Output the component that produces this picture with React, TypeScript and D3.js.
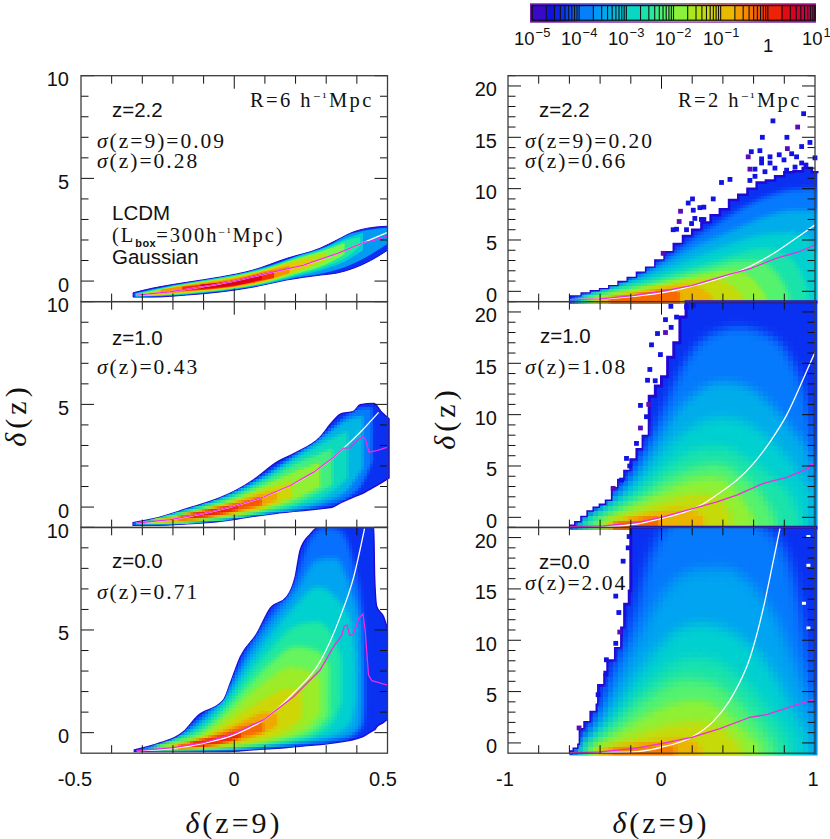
import React from "react";
import * as d3 from "d3";

type Tri = number[];
type Band = [number, Tri[]];

// ---- colour scale of the log density ----
const CMAP_LEVELS = [-5, -4.7, -4.4, -4, -3.5, -3, -2.5, -2, -1.5, -1, -0.5, 0, 0.5, 1];
const CMAP_COLORS = ["#5a0cb8", "#1408d8", "#0a28f0", "#0870ff", "#00a4f0", "#00d0d0", "#20e8a0", "#78f84c", "#b4e410", "#e2cc00", "#f89000", "#f43000", "#dc0018", "#c00060"];
const CBAR_DECADES = [-5, -4, -3, -2, -1, 0];
const CBAR_LABELS: [string, string, number, number][] = [
  ["10", "-5", 514, 45], ["10", "-4", 561, 45], ["10", "-3", 608, 45], ["10", "-2", 655, 45], ["10", "-1", 703, 45], ["1", "", 763, 52], ["10", "1", 802, 45],
];

// ---- R = 6 panels: [x, lower, upper] ----
const L1_OUTER: Tri[] = [[-0.33, -0.78, -0.57], [-0.265, -0.78, -0.34], [-0.155, -0.68, -0.06], [-0.045, -0.53, 0.2], [0.06, -0.3, 0.53], [0.17, 0.05, 1.1], [0.28, 0.29, 1.6], [0.335, 0.39, 2.0], [0.39, 0.63, 2.4], [0.445, 1.0, 2.6], [0.5, 1.5, 2.67]];
const L1_BANDS: Band[] = [
  [-3.6, [[-0.325, -0.76, -0.59], [-0.2, -0.7, -0.2], [-0.1, -0.58, 0.05], [0, -0.41, 0.31], [0.1, -0.17, 0.68], [0.2, 0.16, 1.2], [0.3, 0.42, 1.68], [0.38, 0.8, 2.3], [0.44, 1.25, 2.5], [0.5, 1.8, 2.6]]],
  [-3.0, [[-0.32, -0.75, -0.6], [-0.2, -0.69, -0.22], [-0.1, -0.56, 0.03], [0, -0.39, 0.29], [0.1, -0.14, 0.65], [0.2, 0.22, 1.17], [0.3, 0.6, 1.65], [0.36, 0.95, 2.05], [0.42, 1.5, 2.35]]],
  [-2.5, [[-0.32, -0.74, -0.61], [-0.2, -0.67, -0.24], [-0.1, -0.54, 0.01], [0, -0.37, 0.27], [0.1, -0.11, 0.62], [0.2, 0.28, 1.13], [0.3, 0.72, 1.6], [0.37, 1.2, 2.0], [0.41, 1.7, 2.15]]],
  [-2.0, [[-0.31, -0.73, -0.62], [-0.2, -0.65, -0.26], [-0.1, -0.52, -0.01], [0, -0.35, 0.24], [0.1, -0.08, 0.59], [0.2, 0.35, 1.08], [0.3, 0.82, 1.52], [0.36, 1.3, 1.85]]],
  [-1.5, [[-0.3, -0.72, -0.64], [-0.2, -0.63, -0.28], [-0.1, -0.5, -0.03], [0, -0.33, 0.21], [0.1, -0.05, 0.56], [0.2, 0.42, 1.02], [0.3, 0.95, 1.4]]],
  [-1.0, [[-0.28, -0.7, -0.6], [-0.2, -0.61, -0.3], [-0.1, -0.47, -0.06], [0, -0.31, 0.17], [0.1, -0.02, 0.53], [0.2, 0.5, 0.94], [0.26, 0.78, 1.1]]],
  [-0.5, [[-0.24, -0.63, -0.42], [-0.1, -0.44, -0.1], [0, -0.28, 0.12], [0.1, 0.03, 0.48], [0.18, 0.38, 0.75]]],
  [0, [[-0.17, -0.49, -0.28], [-0.05, -0.35, -0.07], [0, -0.25, 0.05], [0.05, -0.1, 0.24], [0.13, 0.15, 0.5]]],
  [0.5, [[-0.11, -0.39, -0.17], [-0.03, -0.28, -0.06], [0.03, -0.14, 0.1], [0.09, 0.08, 0.34]]],
];
const L1_MEAN = [[-0.318, -0.68], [-0.209, -0.52], [-0.1, -0.275], [0, 0], [0.117, 0.405], [0.226, 0.777], [0.335, 1.34], [0.427, 1.91], [0.438, 1.91], [0.498, 2.18]];
const L1_THEORY = [[-0.318, -0.68], [-0.209, -0.52], [-0.1, -0.275], [0, 0], [0.117, 0.405], [0.226, 0.777], [0.335, 1.34], [0.427, 1.91], [0.498, 2.36]];

const L2_OUTER: Tri[] = [[-0.33, -0.89, -0.76], [-0.263, -0.89, -0.565], [-0.155, -0.82, -0.08], [-0.046, -0.69, 0.455], [0.009, -0.58, 0.84], [0.063, -0.45, 1.33], [0.139, -0.3, 2.19], [0.204, -0.2, 2.67], [0.28, -0.08, 3.4], [0.319, -0.01, 4.13], [0.346, 0.2, 4.53], [0.389, 0.49, 4.66], [0.411, 0.62, 4.98], [0.455, 0.97, 5.05], [0.482, 1.2, 4.6], [0.505, 1.42, 4.3]];
const L2_BANDS: Band[] = [
  [-3.9, [[-0.33, -0.88, -0.75], [-0.2, -0.87, -0.25], [-0.1, -0.76, 0.2], [0, -0.59, 0.78], [0.1, -0.38, 1.6], [0.2, -0.19, 2.6], [0.3, 0.08, 3.65], [0.37, 0.45, 4.5], [0.42, 1.2, 4.85], [0.45, 2.2, 4.85]]],
  [-3.3, [[-0.325, -0.87, -0.75], [-0.2, -0.85, -0.28], [-0.1, -0.74, 0.16], [0, -0.56, 0.72], [0.1, -0.34, 1.52], [0.2, -0.12, 2.5], [0.3, 0.28, 3.5], [0.37, 0.85, 4.25], [0.42, 1.9, 4.45]]],
  [-2.8, [[-0.32, -0.86, -0.76], [-0.2, -0.83, -0.33], [-0.1, -0.72, 0.1], [0, -0.53, 0.64], [0.1, -0.29, 1.4], [0.2, 0.0, 2.35], [0.3, 0.55, 3.2], [0.37, 1.4, 3.7]]],
  [-2.3, [[-0.31, -0.84, -0.76], [-0.2, -0.8, -0.4], [-0.1, -0.68, 0.02], [0, -0.49, 0.54], [0.1, -0.22, 1.27], [0.2, 0.15, 2.1], [0.32, 1.1, 2.85]]],
  [-1.8, [[-0.29, -0.82, -0.72], [-0.2, -0.77, -0.46], [-0.1, -0.63, -0.06], [0, -0.43, 0.42], [0.1, -0.13, 1.08], [0.2, 0.38, 1.75], [0.28, 1.0, 2.2]]],
  [-1.2, [[-0.27, -0.78, -0.67], [-0.2, -0.73, -0.52], [-0.1, -0.58, -0.13], [0, -0.35, 0.3], [0.1, -0.03, 0.86], [0.19, 0.5, 1.25]]],
  [-0.7, [[-0.23, -0.74, -0.61], [-0.1, -0.53, -0.18], [0, -0.27, 0.22], [0.1, 0.1, 0.68], [0.14, 0.35, 0.78]]],
  [-0.2, [[-0.18, -0.64, -0.45], [-0.05, -0.38, -0.03], [0, -0.2, 0.14], [0.09, 0.1, 0.5]]],
  [0.2, [[-0.14, -0.55, -0.36], [-0.05, -0.31, -0.08], [0.01, -0.12, 0.05]]],
];
const L2_MEAN = [[-0.318, -0.775], [-0.209, -0.61], [-0.1, -0.32], [0, 0.05], [0.096, 0.49], [0.183, 1.05], [0.259, 1.7], [0.324, 2.43], [0.357, 2.87], [0.378, 2.88], [0.4, 3.24], [0.42, 3.43], [0.427, 3.35], [0.44, 2.67], [0.465, 2.75], [0.498, 2.91]];
const L2_THEORY = [[-0.318, -0.775], [-0.209, -0.61], [-0.1, -0.32], [0, 0.05], [0.096, 0.49], [0.183, 1.05], [0.259, 1.7], [0.324, 2.43], [0.357, 2.87], [0.411, 3.64], [0.471, 4.61]];

const L3_OUTER: Tri[] = [[-0.326, -0.92, -0.84], [-0.252, -0.92, -0.55], [-0.165, -0.92, 0.05], [-0.122, -0.92, 0.78], [-0.035, -0.92, 1.59], [-0.013, -0.92, 2.4], [0.02, -0.88, 3.7], [0.074, -0.82, 4.83], [0.117, -0.78, 6.05], [0.172, -0.72, 6.62], [0.199, -0.68, 7.6], [0.215, -0.66, 8.89], [0.248, -0.62, 9.67], [0.28, -0.58, 10.05], [0.313, -0.52, 10.05], [0.42, -0.19, 10.05], [0.455, 0.12, 10.05], [0.458, 0.14, 7.6], [0.465, 0.29, 6.13], [0.487, 0.5, 5.65], [0.504, 0.7, 4.83]];
const L3_BANDS: Band[] = [
  [-4.0, [[-0.32, -0.91, -0.85], [-0.25, -0.9, -0.62], [-0.17, -0.88, -0.02], [-0.1, -0.85, 0.85], [-0.02, -0.8, 2.25], [0.05, -0.76, 4.25], [0.12, -0.68, 5.8], [0.2, -0.58, 7.5], [0.25, -0.5, 9.5], [0.3, -0.42, 10], [0.35, -0.3, 9.8], [0.39, -0.1, 8.2], [0.42, 0.4, 5.6], [0.425, 1.2, 3]]],
  [-3.5, [[-0.31, -0.9, -0.86], [-0.25, -0.89, -0.65], [-0.17, -0.87, -0.1], [-0.1, -0.84, 0.72], [-0.02, -0.79, 2], [0.05, -0.74, 3.9], [0.12, -0.64, 5.4], [0.2, -0.52, 6.9], [0.27, -0.42, 8.4], [0.33, -0.3, 8.5], [0.38, -0.1, 7], [0.41, 0.4, 5.2], [0.415, 1.2, 3.5]]],
  [-3.0, [[-0.3, -0.89, -0.85], [-0.25, -0.87, -0.68], [-0.17, -0.85, -0.18], [-0.1, -0.82, 0.55], [-0.02, -0.77, 1.8], [0.05, -0.7, 3.4], [0.12, -0.6, 4.8], [0.2, -0.45, 6.2], [0.27, -0.3, 7.1], [0.33, -0.05, 6.6], [0.38, 0.5, 5.4], [0.395, 1.5, 3.8]]],
  [-2.5, [[-0.28, -0.88, -0.78], [-0.2, -0.85, -0.4], [-0.1, -0.8, 0.32], [-0.02, -0.74, 1.5], [0.05, -0.66, 2.9], [0.12, -0.54, 4.1], [0.2, -0.38, 5.2], [0.27, -0.1, 5.4], [0.325, 0.6, 4.6], [0.35, 1.5, 3.6]]],
  [-2.1, [[-0.26, -0.87, -0.7], [-0.2, -0.84, -0.46], [-0.1, -0.78, 0.12], [-0.02, -0.7, 1.2], [0.05, -0.6, 2.35], [0.12, -0.45, 3.4], [0.2, -0.25, 4.2], [0.27, 0.2, 4], [0.31, 0.9, 3.3]]],
  [-1.7, [[-0.24, -0.85, -0.66], [-0.1, -0.75, -0.05], [-0.02, -0.66, 0.9], [0.05, -0.55, 1.85], [0.12, -0.38, 2.7], [0.18, -0.15, 3.2], [0.25, 0.4, 3], [0.28, 1, 2.55]]],
  [-1.2, [[-0.22, -0.85, -0.68], [-0.1, -0.72, -0.18], [-0.02, -0.62, 0.52], [0.05, -0.47, 1.2], [0.12, -0.22, 1.8], [0.17, 0.1, 2.1], [0.22, 0.7, 2.1]]],
  [-0.7, [[-0.2, -0.82, -0.66], [-0.1, -0.68, -0.27], [-0.02, -0.54, 0.22], [0.05, -0.28, 0.7], [0.1, 0, 1], [0.14, 0.35, 0.9]]],
  [-0.3, [[-0.18, -0.77, -0.57], [-0.1, -0.65, -0.33], [-0.03, -0.47, 0.02], [0.03, -0.2, 0.32], [0.095, 0.05, 0.5]]],
  [0.1, [[-0.14, -0.66, -0.45], [-0.05, -0.52, -0.2], [0.02, -0.24, 0.06]]],
];
const L3_MEAN = [[-0.318, -0.87], [-0.198, -0.73], [-0.1, -0.49], [0, -0.03], [0.095, 0.62], [0.193, 1.75], [0.28, 3.05], [0.324, 4.19], [0.351, 4.75], [0.359, 5.19], [0.368, 5.24], [0.376, 4.75], [0.387, 4.75], [0.406, 5.56], [0.42, 5.78], [0.427, 5], [0.438, 2.81], [0.449, 2.53], [0.5, 2.32]];
const L3_THEORY = [[-0.318, -0.89], [-0.198, -0.76], [-0.1, -0.52], [0, -0.11], [0.095, 0.62], [0.193, 1.92], [0.28, 3.46], [0.346, 5.65], [0.39, 7.6], [0.425, 9.94]];

// ---- R = 2 panels: [x, upper]; the lower edge is the floor ----
const R_OUTER_FLOOR = -1.2;
const R_INNER_FLOOR = -3;
const R1_OUTER = [[-0.6, -0.5], [-0.52, -0.2], [-0.46, 0], [-0.4, 0.2], [-0.34, 0.5], [-0.28, 0.9], [-0.22, 1.3], [-0.16, 1.8], [-0.1, 2.3], [-0.04, 3], [0.02, 3.8], [0.08, 4.6], [0.14, 5.4], [0.2, 6], [0.26, 6.7], [0.32, 7.4], [0.38, 8], [0.44, 8.9], [0.5, 9.4], [0.56, 10], [0.62, 10.6], [0.68, 10.8], [0.74, 11.2], [0.8, 11.6], [0.86, 11.7], [0.92, 12], [0.98, 11.6], [1.015, 11.5]];
const R1_BANDS: Band[] = [
  [-3.9, [[-0.58, -0.55], [-0.45, -0.1], [-0.3, 0.6], [-0.15, 1.6], [-0.03, 2.7], [0.08, 3.8], [0.2, 5.1], [0.35, 6.5], [0.5, 7.9], [0.7, 9.3], [0.85, 9.9], [1.02, 10]]],
  [-3.4, [[-0.56, -0.6], [-0.4, 0.05], [-0.25, 0.75], [-0.1, 1.8], [0.03, 2.8], [0.15, 3.8], [0.3, 4.9], [0.5, 6.2], [0.7, 7.4], [0.85, 7.9], [1.02, 7.9]]],
  [-3.0, [[-0.54, -0.62], [-0.35, 0.25], [-0.2, 0.9], [-0.05, 1.7], [0.1, 2.6], [0.25, 3.5], [0.45, 4.6], [0.65, 5.5], [0.8, 5.7], [0.95, 5.3], [1.02, 3.5]]],
  [-2.6, [[-0.52, -0.65], [-0.3, 0.25], [-0.15, 0.8], [0, 1.45], [0.15, 2.15], [0.3, 2.8], [0.5, 3.7], [0.65, 4.2], [0.78, 3.8], [0.9, 2.1], [0.96, -0.2]]],
  [-2.2, [[-0.5, -0.65], [-0.3, 0.05], [-0.15, 0.55], [0, 1.1], [0.15, 1.7], [0.3, 2.25], [0.5, 2.95], [0.62, 3], [0.75, 1.8], [0.83, -0.3]]],
  [-1.8, [[-0.47, -0.68], [-0.3, -0.1], [-0.15, 0.32], [0, 0.8], [0.15, 1.3], [0.3, 1.75], [0.45, 2.05], [0.57, 1.5], [0.68, -0.4]]],
  [-1.3, [[-0.44, -0.72], [-0.25, -0.15], [-0.1, 0.32], [0.05, 0.75], [0.2, 1.15], [0.32, 1.25], [0.44, 0.75], [0.53, -0.5]]],
  [-0.8, [[-0.4, -0.8], [-0.25, -0.4], [-0.1, 0.02], [0.03, 0.42], [0.13, 0.65], [0.24, 0.42], [0.33, -0.5]]],
  [-0.3, [[-0.34, -0.65], [-0.18, -0.3], [-0.07, -0.05], [0.03, 0.15], [0.12, -0.1]]],
];
const R1_MEAN = [[-0.6, -0.8], [-0.4, -0.74], [-0.185, -0.42], [0, 0], [0.196, 0.55], [0.38, 1.39], [0.576, 2.2], [0.75, 3.24], [0.902, 3.88], [1, 4.53]];
const R1_THEORY = [[-0.6, -0.8], [-0.4, -0.74], [-0.185, -0.49], [0, -0.16], [0.196, 0.49], [0.38, 1.25], [0.576, 2.43], [0.75, 3.88], [0.902, 5.44], [1, 6.47]];
const R1_CELLS = [[0.926, 17.3, -4.6], [0.726, 16.6, -4.6], [0.887, 16, -5], [0.657, 15, -4.6], [0.817, 15, -4.6], [0.967, 14.5, -4.6], [0.913, 14.1, -4.6], [0.82, 13.9, -5], [0.585, 13.6, -4.6], [0.641, 13.7, -4.6], [0.565, 13.1, -5], [0.767, 13.3, -4.6], [0.848, 13.4, -4.6], [0.652, 12.9, -4.6], [0.707, 13.1, -4.6], [0.798, 12.8, -4.6], [0.88, 13.1, -4.6], [1, 13, -4.6], [0.707, 12.5, -4.6], [0.652, 12.5, -4.6], [0.913, 12.5, -4.6], [0.941, 12.3, -4.6], [0.609, 11.9, -4.6], [0.576, 11.9, -5], [0.739, 12, -4.6], [0.674, 11.65, -4.6], [0.815, 11.8, -4.6], [0.87, 12.1, -4.6], [0.609, 11.2, -4.6], [0.446, 10.9, -4.6], [0.391, 10.6, -4.6], [0.576, 10.8, -4.6], [0.202, 9, -4.6], [0.174, 8.6, -4.6], [0.337, 9, -4.6], [0.25, 8.15, -4.6], [0.276, 8.2, -4.6], [0.207, 7.9, -4.6], [0.124, 7.8, -5], [0.098, 6.05, -4.6], [0.115, 6.8, -5], [0.217, 7.1, -4.6], [0.276, 7, -4.6], [0.011, 3.7, -5], [0.076, 6, -4.6], [0.163, 6, -4.6], [0.196, 6.6, -4.6], [0.26, 7, -4.6]];

const R2_OUTER = [[-0.6, -0.85], [-0.56, -0.5], [-0.52, 0], [-0.48, 0.55], [-0.44, 0.9], [-0.4, 1.2], [-0.36, 1.6], [-0.32, 2.8], [-0.28, 3.6], [-0.24, 4.5], [-0.2, 5.6], [-0.16, 6.6], [-0.12, 7.9], [-0.08, 11.8], [-0.04, 12.8], [0, 13.7], [0.04, 15.6], [0.08, 17], [0.12, 19.5], [0.16, 21], [1.015, 21]];
const R2_BANDS: Band[] = [
  [-3.9, [[-0.57, -0.55], [-0.5, 0.2], [-0.4, 1.0], [-0.3, 2.6], [-0.2, 4.4], [-0.1, 7], [0, 10.2], [0.1, 13.6], [0.2, 16.2], [0.35, 18], [0.5, 18.5], [0.7, 17.7], [0.85, 15.2], [0.95, 11], [1.02, 4]]],
  [-3.4, [[-0.55, -0.6], [-0.4, 0.8], [-0.3, 2], [-0.2, 3.5], [-0.1, 5.6], [0, 8], [0.1, 10.3], [0.25, 12.4], [0.4, 13.2], [0.55, 12.8], [0.7, 11.2], [0.85, 8.6], [0.97, 5.8], [1.02, 2.5]]],
  [-3.0, [[-0.53, -0.6], [-0.4, 0.55], [-0.3, 1.55], [-0.2, 2.8], [-0.1, 4.4], [0, 6.2], [0.1, 7.7], [0.25, 9.2], [0.4, 9.7], [0.55, 9.2], [0.7, 7.7], [0.85, 5.3], [0.97, 2.4]]],
  [-2.6, [[-0.51, -0.62], [-0.4, 0.3], [-0.3, 1.15], [-0.2, 2.1], [-0.1, 3.3], [0, 4.6], [0.1, 5.7], [0.25, 6.7], [0.4, 6.8], [0.55, 5.8], [0.7, 4.2], [0.87, 1.2], [0.91, -0.4]]],
  [-2.2, [[-0.48, -0.6], [-0.3, 0.8], [-0.2, 1.55], [-0.1, 2.35], [0, 3.4], [0.1, 4.2], [0.25, 5], [0.37, 5.2], [0.52, 4.1], [0.67, 1.9], [0.75, -0.4]]],
  [-1.8, [[-0.42, -0.55], [-0.3, 0.35], [-0.2, 1], [-0.1, 1.7], [0, 2.4], [0.1, 3.05], [0.25, 3.75], [0.36, 3.8], [0.5, 2.3], [0.6, 0.1]]],
  [-1.3, [[-0.37, -0.5], [-0.2, 0.45], [-0.1, 0.9], [0, 1.4], [0.1, 1.85], [0.25, 2.2], [0.36, 1.9], [0.45, 0.4]]],
  [-0.8, [[-0.33, -0.55], [-0.2, 0], [-0.1, 0.35], [0, 0.65], [0.1, 0.8], [0.2, 0.6], [0.28, 0]]],
  [-0.3, [[-0.31, -0.6], [-0.2, -0.3], [-0.1, -0.1], [-0.01, 0]]],
];
const R2_MEAN = [[-0.6, -0.9], [-0.38, -0.84], [-0.163, -0.52], [0, 0], [0.185, 0.78], [0.36, 1.5], [0.49, 2.17], [0.663, 3.3], [0.815, 3.9], [0.957, 4.77], [0.967, 5.2], [0.99, 5.1]];
const R2_THEORY = [[-0.6, -0.9], [-0.38, -0.9], [-0.163, -0.65], [0, -0.1], [0.185, 0.71], [0.27, 1.3], [0.38, 2.4], [0.49, 3.6], [0.6, 5.25], [0.707, 7.36], [0.815, 9.95], [0.924, 13.5], [1, 16.1]];
const R2_CELLS = [[-0.065, 16.8, -4.6], [-0.026, 17.9, -4.6], [0.026, 18, -5], [0.026, 19.25, -4.6], [0.063, 18.5, -4.6], [0.098, 19.5, -4.6], [-0.076, 14.4, -4.6], [-0.007, 15.85, -4.6], [-0.137, 10.9, -4.6], [-0.083, 11, -5], [-0.091, 13.35, -4.6], [-0.041, 13.3, -4.6], [-0.098, 9.8, -4.6], [-0.137, 8.7, -5], [-0.163, 7.2, -4.6], [-0.228, 5.74, -4.6], [-0.207, 5, -4.6], [-0.26, 3.63, -4.6], [-0.315, 2.82, -5], [0.061, 20.55, -4.6], [0.163, 20.5, -4.6], [0.207, 20.65, -4.6]];

const R3_OUTER = [[-0.6, -0.85], [-0.57, -0.6], [-0.54, -0.2], [-0.53, 1.3], [-0.5, 2], [-0.46, 3], [-0.42, 3.7], [-0.41, 5.6], [-0.37, 6.6], [-0.35, 8], [-0.3, 9.2], [-0.26, 11.2], [-0.24, 13.5], [-0.21, 14.8], [-0.2, 21], [1.015, 21]];
const R3_BANDS: Band[] = [
  [-3.9, [[-0.56, -0.4], [-0.5, 0.9], [-0.43, 2.5], [-0.37, 4.8], [-0.3, 7.6], [-0.22, 10.6], [-0.16, 13.4], [-0.1, 17], [0, 20.5], [0.1, 22], [0.5, 22], [0.75, 20], [0.88, 15], [0.95, 9], [1.02, 3]]],
  [-3.5, [[-0.55, -0.4], [-0.48, 0.7], [-0.4, 2.4], [-0.33, 4.6], [-0.25, 7.2], [-0.15, 10], [-0.05, 13], [0.05, 15.2], [0.2, 16.8], [0.4, 17], [0.6, 15.2], [0.75, 12], [0.88, 7.2], [1.02, 1.5]]],
  [-3.0, [[-0.53, -0.45], [-0.45, 0.7], [-0.37, 2.2], [-0.28, 4.2], [-0.2, 5.9], [-0.1, 7.9], [0, 9.6], [0.1, 11], [0.25, 11.6], [0.4, 11.2], [0.55, 9.9], [0.7, 7.5], [0.84, 3.8], [0.96, 0.5]]],
  [-2.6, [[-0.51, -0.45], [-0.42, 0.55], [-0.33, 1.9], [-0.25, 3.2], [-0.15, 5], [-0.05, 6.4], [0.05, 7.5], [0.2, 8.3], [0.35, 8], [0.5, 6.6], [0.65, 4.2], [0.84, 0.3]]],
  [-2.2, [[-0.49, -0.5], [-0.38, 0.75], [-0.3, 1.65], [-0.2, 3], [-0.1, 4.2], [0, 5.3], [0.15, 6.2], [0.3, 6], [0.45, 4.7], [0.62, 2.1], [0.74, -0.3]]],
  [-1.8, [[-0.46, -0.55], [-0.35, 0.4], [-0.25, 1.25], [-0.15, 2.15], [-0.05, 3], [0.1, 3.9], [0.22, 4.1], [0.35, 3.6], [0.52, 1.5], [0.64, -0.3]]],
  [-1.3, [[-0.43, -0.6], [-0.3, 0], [-0.15, 0.75], [-0.05, 1.3], [0.1, 1.9], [0.25, 2.05], [0.4, 1.3], [0.52, -0.4]]],
  [-0.8, [[-0.41, -0.65], [-0.2, -0.15], [-0.05, 0.2], [0.05, 0.4], [0.15, 0.45], [0.26, -0.5]]],
  [-0.4, [[-0.33, -0.6], [-0.1, -0.25], [0.09, -0.15]]],
];
const R3_MEAN = [[-0.6, -0.97], [-0.4, -0.88], [-0.185, -0.55], [0, -0.06], [0.196, 0.55], [0.38, 1.4], [0.576, 2.5], [0.685, 2.76], [0.815, 3.4], [0.902, 3.82], [0.99, 4.2]];
const R3_THEORY = [[-0.6, -0.97], [-0.4, -0.94], [-0.185, -0.88], [0, -0.42], [0.196, 0.55], [0.337, 2.1], [0.467, 4.7], [0.576, 8.27], [0.663, 13.1], [0.728, 17.7], [0.772, 20.9]];
const R3_CELLS = [[-0.25, 17.7, -4.6], [-0.298, 14.3, -4.6], [-0.278, 12.7, -4.6], [-0.298, 9.7, -4.6], [-0.359, 8.1, -4.6], [-0.537, 1.46, -5], [-0.211, 20.1, -4.6], [-0.217, 19, -4.6], [-0.272, 10.8, -5], [-0.413, 4.7, -4.6], [-0.363, 6.8, -4.6]];
const R3_HOLES = [[0.957, 20.1], [0.957, 17.3], [0.928, 13.6], [0.957, 11.2]];

const LEFT_YTICKS = [-1, 10, 5];
const RIGHT_YTICKS = [-1, 21, 5];

const SANS = "'Liberation Sans', Arial, sans-serif";
const SERIF = "'Liberation Serif', 'Times New Roman', serif";
const cmap = d3.scaleLinear<string>().domain(CMAP_LEVELS).range(CMAP_COLORS).interpolate(d3.interpolateRgb).clamp(true);

const PANEL_TOPS = [75.7, 301.7, 527.3];
const PANEL_H = 225.9;

interface PanelSpec {
  id: string; side: "L" | "R"; row: number;
  outer: Tri[]; bands: Band[]; mean: number[][]; theory: number[][];
  cells?: number[][]; holes?: number[][];
  blurs: [number, number, number]; cell: number; rim: number;
}
const PANELS: PanelSpec[] = [
  { id: "l1", side: "L", row: 0, outer: L1_OUTER, bands: L1_BANDS, mean: L1_MEAN, theory: L1_THEORY, blurs: [0.5, 0.5, 0.5], cell: 1, rim: 1 },
  { id: "l2", side: "L", row: 1, outer: L2_OUTER, bands: L2_BANDS, mean: L2_MEAN, theory: L2_THEORY, blurs: [1.4, 1.1, 0.8], cell: 3, rim: 1.4 },
  { id: "l3", side: "L", row: 2, outer: L3_OUTER, bands: L3_BANDS, mean: L3_MEAN, theory: L3_THEORY, blurs: [2.6, 2, 1.2], cell: 3, rim: 1.4 },
  { id: "r1", side: "R", row: 0, outer: R1_OUTER.map((p) => [p[0], R_OUTER_FLOOR, p[1]]), bands: R1_BANDS, mean: R1_MEAN, theory: R1_THEORY, cells: R1_CELLS, blurs: [2.6, 1.8, 1.2], cell: 3, rim: 2.5 },
  { id: "r2", side: "R", row: 1, outer: R2_OUTER.map((p) => [p[0], R_OUTER_FLOOR, p[1]]), bands: R2_BANDS, mean: R2_MEAN, theory: R2_THEORY, cells: R2_CELLS, blurs: [5, 3, 1.6], cell: 5, rim: 3 },
  { id: "r3", side: "R", row: 2, outer: R3_OUTER.map((p) => [p[0], R_OUTER_FLOOR, p[1]]), bands: R3_BANDS, mean: R3_MEAN, theory: R3_THEORY, cells: R3_CELLS, holes: R3_HOLES, blurs: [6, 3.5, 2], cell: 5, rim: 3 },
];

function scalesOf(side: "L" | "R", row: number) {
  const x = side === "L" ? d3.scaleLinear().domain([-0.5, 0.5]).range([81, 387.5]) : d3.scaleLinear().domain([-1, 1]).range([508, 815]);
  const yd = side === "L" ? LEFT_YTICKS : RIGHT_YTICKS;
  const y = d3.scaleLinear().domain([yd[0], yd[1]]).range([PANEL_TOPS[row] + PANEL_H, PANEL_TOPS[row]]);
  return { x, y };
}

function Panel({ p }: { p: PanelSpec }) {
  const { x, y } = scalesOf(p.side, p.row);
  const areaFor = (curve: d3.CurveFactory) => d3.area<Tri>().x((d) => x(d[0])).y0((d) => y(d[1])).y1((d) => y(d[2])).curve(curve);
  const outerCurve = p.side === "R" ? d3.curveStepAfter : d3.curveMonotoneX;
  const outerPath = areaFor(outerCurve)(p.outer) || "";
  const rimPath = p.side === "R"
    ? d3.line<Tri>().x((d) => x(d[0])).y((d) => y(d[2])).curve(d3.curveStepAfter)(p.outer) || ""
    : outerPath;
  const bandArea = areaFor(d3.curveMonotoneX);
  const line = d3.line<number[]>().x((d) => x(d[0])).y((d) => y(d[1])).curve(d3.curveMonotoneX);
  const lineLin = d3.line<number[]>().x((d) => x(d[0])).y((d) => y(d[1])).curve(d3.curveLinear);
  const [x0, x1] = x.range();
  const yt = y.range()[1];
  const cw = p.side === "R" ? 4.8 : 3;
  const fr = { filterUnits: "userSpaceOnUse", x: x0 - 20, y: yt - 20, width: x1 - x0 + 40, height: PANEL_H + 50 } as const;
  const tier = (lev: number) => (lev < -2 ? 0 : lev < -1 ? 1 : 2);
  const r = (p.cell - 1) / 2;
  const px = Math.floor(x0) - 20;
  const py = Math.floor(yt) - 20;
  return (
    <g>
      <defs>
        <clipPath id={`outer-${p.id}`}><path d={outerPath} /></clipPath>
        <clipPath id={`frame-${p.id}`}><rect x={x0} y={yt} width={x1 - x0} height={PANEL_H} /></clipPath>
        {p.blurs.map((b, i) => (
          <filter key={i} id={`blur-${p.id}-${i}`} {...fr} colorInterpolationFilters="sRGB">
            <feGaussianBlur stdDeviation={b} />
          </filter>
        ))}
        <filter id={`pix-${p.id}`} {...fr} primitiveUnits="userSpaceOnUse" colorInterpolationFilters="sRGB">
          <feFlood x={px + r} y={py + r} width={1} height={1} floodColor="#000" />
          <feComposite x={px} y={py} width={p.cell} height={p.cell} />
          <feTile result="grid" />
          <feComposite in="SourceGraphic" in2="grid" operator="in" />
          <feMorphology operator="dilate" radius={r} />
        </filter>
      </defs>
      <g clipPath={p.side === "L" && p.row === 2 ? `url(#frame-${p.id})` : undefined}>
        <path d={outerPath} fill={cmap(-4.35)} />
        <path d={rimPath} fill="none" stroke={cmap(-4.75)} strokeWidth={p.rim} />
        <g clipPath={`url(#outer-${p.id})`}>
          <g filter={p.cell > 1 ? `url(#pix-${p.id})` : undefined}>
            {p.bands.map(([lev, pts], i) => {
              const norm = pts.map((q) => (q.length === 2 ? [q[0], R_INNER_FLOOR, q[1]] : q));
              return <path key={i} d={bandArea(norm) || ""} fill={cmap(lev)} filter={`url(#blur-${p.id}-${tier(lev)})`} />;
            })}
          </g>
        </g>
      </g>
      {(p.cells || []).map((c, i) => (
        <rect key={i} x={x(c[0]) - cw / 2} y={y(c[1]) - cw / 2} width={cw} height={cw} fill={cmap(c[2])} />
      ))}
      {(p.holes || []).map((c, i) => (
        <rect key={i} x={x(c[0]) - 2} y={y(c[1]) - 1.5} width={4} height={3} fill="#fff" />
      ))}
      <g clipPath={`url(#frame-${p.id})`} fill="none">
        <path d={line(p.theory) || ""} stroke="#ffffff" strokeWidth={1.3} />
        <path d={lineLin(p.mean) || ""} stroke="#f22ae0" strokeWidth={1.3} />
      </g>
    </g>
  );
}

function Frame({ side, row }: { side: "L" | "R"; row: number }) {
  const { x, y } = scalesOf(side, row);
  const [x0, x1] = x.range();
  const [yb, yt] = y.range();
  const xt = side === "L" ? d3.range(-4, 5).map((i) => i / 10) : d3.range(-4, 5).map((i) => i / 5);
  const yd = y.domain();
  const yMaj = d3.range(0, yd[1] + 0.01, 5);
  const yMin = d3.range(0, yd[1] + 0.01, 1).filter((v) => v % 5 !== 0);
  const seg: [number, number, number, number][] = [];
  xt.forEach((v) => {
    const l = v === 0 ? 13 : 8;
    seg.push([x(v), yb, x(v), yb - l], [x(v), yt, x(v), yt + l]);
  });
  yMaj.forEach((v) => seg.push([x0, y(v), x0 + 13, y(v)], [x1, y(v), x1 - 13, y(v)]));
  yMin.forEach((v) => seg.push([x0, y(v), x0 + 7.5, y(v)], [x1, y(v), x1 - 7.5, y(v)]));
  return (
    <g>
      {seg.map((s, i) => <line key={i} x1={s[0]} y1={s[1]} x2={s[2]} y2={s[3]} stroke="#111" strokeWidth={1} />)}
      <rect x={x0} y={yt} width={x1 - x0} height={yb - yt} fill="none" stroke="#3c3c3c" strokeWidth={1.3} />
    </g>
  );
}

function Sup({ a, b, x, y, size }: { a: string; b: string; x: number; y: number; size: number }) {
  return (
    <text x={x} y={y} fontFamily={SANS} fontSize={size} fill="#111">
      {a}
      {b && <tspan fontSize={size * 0.7} dy={-size * 0.42} dx={1}>{b.replace("-", "\u2212")}</tspan>}
    </text>
  );
}

function Serif({ x, y, children, size = 21.5, ls = 2 }: { x: number; y: number; children: React.ReactNode; size?: number; ls?: number }) {
  return <text x={x} y={y} fontFamily={SERIF} fontSize={size} letterSpacing={ls} fill="#111">{children}</text>;
}
function Sans({ x, y, children }: { x: number; y: number; children: React.ReactNode }) {
  return <text x={x} y={y} fontFamily={SANS} fontSize={20.5} fill="#111">{children}</text>;
}
function Sigma({ x, y, text }: { x: number; y: number; text: string }) {
  return <Serif x={x} y={y}><tspan fontStyle="italic">σ</tspan>{text}</Serif>;
}
function Radius({ x, y, r }: { x: number; y: number; r: string }) {
  return (
    <Serif x={x} y={y} size={20.5} ls={2.4}>
      {`R=${r} h`}<tspan fontSize={13} dy={-6}>−¹</tspan><tspan dy={6}>Mpc</tspan>
    </Serif>
  );
}
function AxisName({ x, y, rot, text, ls }: { x: number; y: number; rot?: boolean; text: string; ls: number }) {
  return (
    <text x={x} y={y} transform={rot ? `rotate(-90 ${x} ${y})` : undefined} textAnchor="middle" fontFamily={SERIF} fontSize={30} letterSpacing={ls} fill="#111">
      <tspan fontStyle="italic">δ</tspan>{text}
    </text>
  );
}

function ColorBar() {
  const scale = d3.scaleLinear().domain([-5, 1]).range([532, 815]);
  const multipliers = [1, 2, 3, 4, 5, 6, 7, 8, 9];
  const edges: number[] = [];
  CBAR_DECADES.forEach((d) => multipliers.forEach((m) => edges.push(d + Math.log10(m))));
  edges.push(1);
  return (
    <g>
      <rect x={530} y={3.3} width={286} height={19.4} fill="#7a1ca8" />
      {edges.slice(0, -1).map((e, i) => (
        <rect key={i} x={scale(e)} y={4.6} width={scale(edges[i + 1]) - scale(e) + 0.4} height={17} fill={cmap((e + edges[i + 1]) / 2)} />
      ))}
      <rect x={532} y={5.6} width={283} height={14.6} fill="none" stroke="#111" strokeWidth={1.2} />
      {edges.map((e, i) => <line key={i} x1={scale(e)} x2={scale(e)} y1={5.6} y2={20.2} stroke="#111" strokeWidth={1.1} />)}
      {CBAR_LABELS.map((l, i) => <Sup key={i} a={l[0]} b={l[1]} x={l[2]} y={l[3]} size={18.5} />)}
    </g>
  );
}

export default function App() {
  const tickFont = { fontFamily: SANS, fontSize: 20, fill: "#111" } as const;
  const ylabs: [string, number, number][] = [];
  [0, 1, 2].forEach((row) => {
    const l = scalesOf("L", row).y;
    [10, 5, 0].forEach((v) => ylabs.push([String(v), 69, l(v) + 10.5]));
    const r = scalesOf("R", row).y;
    [20, 15, 10, 5, 0].forEach((v) => ylabs.push([String(v), 497, r(v) + 10.5]));
  });
  return (
    <svg width={830} height={839} viewBox="0 0 830 839" style={{ position: "absolute", left: 0, top: 0, background: "#fff" }}>
      <ColorBar />
      {PANELS.map((p) => <Panel key={p.id} p={p} />)}
      {[0, 1, 2].map((r) => <Frame key={"L" + r} side="L" row={r} />)}
      {[0, 1, 2].map((r) => <Frame key={"R" + r} side="R" row={r} />)}
      {ylabs.map((t, i) => <text key={i} x={t[1]} y={t[2]} textAnchor="end" {...tickFont}>{t[0]}</text>)}
      <text x={75} y={786} textAnchor="middle" {...tickFont}>-0.5</text>
      <text x={234} y={786} textAnchor="middle" {...tickFont}>0</text>
      <text x={383} y={786} textAnchor="middle" {...tickFont}>0.5</text>
      <text x={505} y={786} textAnchor="middle" {...tickFont}>-1</text>
      <text x={661} y={786} textAnchor="middle" {...tickFont}>0</text>
      <text x={813} y={786} textAnchor="middle" {...tickFont}>1</text>

      <Sans x={112} y={117}>z=2.2</Sans>
      <Radius x={250} y={107} r="6" />
      <Sigma x={97} y={148} text="(z=9)=0.09" />
      <Sigma x={97} y={168} text="(z)=0.28" />
      <Sans x={112} y={220}>LCDM</Sans>
      <Serif x={112} y={242} size={20.5} ls={1.9}>
        (L<tspan fontFamily={SANS} fontWeight="bold" fontSize={11} dy={5} letterSpacing={0.5}>box</tspan><tspan dy={-5}>=300h</tspan><tspan fontSize={12} dy={-6}>−¹</tspan><tspan dy={6}>Mpc)</tspan>
      </Serif>
      <Sans x={112} y={264}>Gaussian</Sans>
      <Sans x={112} y={345}>z=1.0</Sans>
      <Sigma x={97} y={374} text="(z)=0.43" />
      <Sans x={112} y={568}>z=0.0</Sans>
      <Sigma x={97} y={599} text="(z)=0.71" />

      <Sans x={539} y={117}>z=2.2</Sans>
      <Radius x={678} y={107} r="2" />
      <Sigma x={525} y={148} text="(z=9)=0.20" />
      <Sigma x={525} y={168} text="(z)=0.66" />
      <Sans x={540} y={343}>z=1.0</Sans>
      <Sigma x={525} y={374} text="(z)=1.08" />
      <Sans x={539} y={569}>z=0.0</Sans>
      <Sigma x={525} y={590} text="(z)=2.04" />

      <AxisName x={234} y={833} text="(z=9)" ls={3} />
      <AxisName x={661} y={833} text="(z=9)" ls={3} />
      <AxisName x={26} y={415} rot text="(z)" ls={4} />
      <AxisName x={455} y={418} rot text="(z)" ls={4} />
    </svg>
  );
}
